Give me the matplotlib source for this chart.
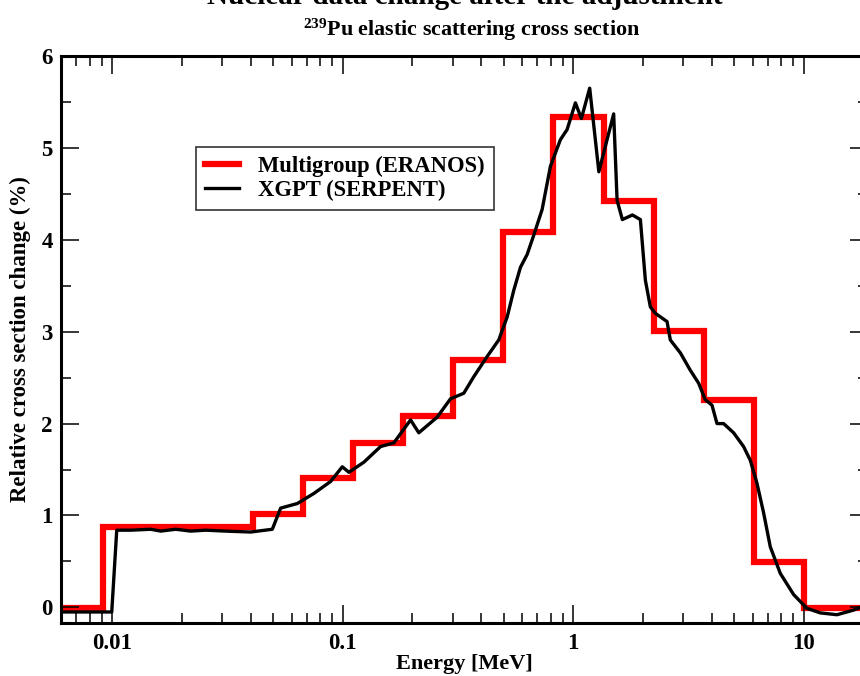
import numpy as np
import matplotlib
matplotlib.use('Agg')
import matplotlib.pyplot as plt
from matplotlib.ticker import LogLocator, MultipleLocator, NullFormatter, FixedLocator, FixedFormatter

plt.rcParams['font.family'] = ['Liberation Serif', 'DejaVu Serif']
plt.rcParams['font.weight'] = 'bold'
plt.rcParams['axes.labelweight'] = 'bold'
plt.rcParams['mathtext.fontset'] = 'custom'
plt.rcParams['mathtext.rm'] = 'Liberation Serif:bold'
plt.rcParams['mathtext.it'] = 'Liberation Serif:bold'
plt.rcParams['mathtext.bf'] = 'Liberation Serif:bold'

# ECCO 33-group boundaries (MeV), lowest groups visible in the window
group_edges = [0.005531, 0.009119, 0.01503, 0.02479, 0.04087, 0.06738, 0.1111,
               0.1832, 0.3020, 0.4979, 0.8209, 1.3534, 2.2313, 3.6788, 6.0653,
               10.0, 19.64]
eranos_change = [-0.01, 0.88, 0.87, 0.87, 1.02, 1.41, 1.79, 2.08, 2.69, 4.09,
                 5.34, 4.42, 3.01, 2.26, 0.49, -0.01]

# XGPT (SERPENT) continuous-energy result
serpent_energy = [0.00605, 0.00996, 0.01047, 0.01205, 0.0147, 0.01625, 0.01887,
                  0.02193, 0.02547, 0.03108, 0.0399, 0.04952, 0.05381, 0.06355,
                  0.07502, 0.08864, 0.09961, 0.1064, 0.1236, 0.146, 0.1667,
                  0.197, 0.2139, 0.257, 0.2936, 0.3352, 0.3704, 0.4233, 0.4754,
                  0.517, 0.5522, 0.5903, 0.6312, 0.6743, 0.7332, 0.7965, 0.8801,
                  0.941, 1.022, 1.085, 1.179, 1.292, 1.498, 1.55, 1.634, 1.806,
                  1.956, 2.056, 2.161, 2.271, 2.553, 2.638, 2.915, 3.221, 3.499,
                  3.741, 4.0, 4.205, 4.491, 4.963, 5.484, 5.864, 6.268, 6.696,
                  7.158, 7.912, 9.035, 10.32, 11.79, 13.93, 16.44, 17.58, 19.0]
serpent_change = [-0.05, -0.05, 0.84, 0.84, 0.85, 0.83, 0.85, 0.83, 0.84, 0.83,
                  0.82, 0.85, 1.08, 1.13, 1.24, 1.37, 1.53, 1.47, 1.58, 1.75,
                  1.79, 2.04, 1.90, 2.07, 2.27, 2.33, 2.51, 2.73, 2.91, 3.16,
                  3.45, 3.70, 3.84, 4.05, 4.33, 4.80, 5.09, 5.20, 5.49, 5.32,
                  5.65, 4.74, 5.37, 4.43, 4.22, 4.27, 4.22, 3.56, 3.27, 3.20,
                  3.11, 2.91, 2.77, 2.58, 2.44, 2.26, 2.20, 2.00, 2.00, 1.90,
                  1.75, 1.60, 1.35, 1.03, 0.66, 0.37, 0.14, -0.01, -0.06, -0.08,
                  -0.03, 0.0, 0.01]

fig = plt.figure(figsize=(8.6, 6.76), dpi=100, facecolor='white')
ax = fig.add_axes([61 / 860, 1 - 623 / 676, 807 / 860, 567 / 676])

ax.stairs(eranos_change, group_edges, baseline=None, color='red', lw=4.5,
          label='Multigroup (ERANOS)')
ax.plot(serpent_energy, serpent_change, color='black', lw=2.4,
        solid_joinstyle='round', label='XGPT (SERPENT)')

ax.set_xscale('log')
ax.set_xlim(0.006, 19.0)
ax.set_ylim(-0.17, 6.0)

ax.xaxis.set_major_locator(FixedLocator([0.01, 0.1, 1, 10]))
ax.xaxis.set_major_formatter(FixedFormatter(['0.01', '0.1', '1', '10']))
ax.xaxis.set_minor_locator(LogLocator(base=10, subs=np.arange(2, 10)))
ax.xaxis.set_minor_formatter(NullFormatter())
ax.yaxis.set_major_locator(MultipleLocator(1))
ax.yaxis.set_minor_locator(MultipleLocator(0.5))

ax.tick_params(which='both', direction='in', top=True, right=True,
               labelsize=16.5, width=1.1)
ax.tick_params(axis='x', pad=7)
ax.tick_params(axis='y', pad=6)
ax.tick_params(which='major', length=13)
ax.tick_params(which='minor', length=7)
for s in ax.spines.values():
    s.set_linewidth(2.2)

ax.set_xlabel('Energy [MeV]', fontsize=16, labelpad=0)
ax.set_ylabel('Relative cross section change (%)', fontsize=16.5, labelpad=7)

fig.text(0.54, 1 - 4 / 676, 'Nuclear data change after the adjustment',
         ha='center', va='baseline', fontsize=21)
fig.text(0.548, 1 - 36 / 676, r'$^{239}$Pu elastic scattering cross section',
         ha='center', va='baseline', fontsize=15.8)

leg = ax.legend(loc='upper left', bbox_to_anchor=(196 / 860, 1 - 147 / 676),
                bbox_transform=fig.transFigure, fontsize=16.3, frameon=True,
                fancybox=False, handlelength=1.5, handletextpad=0.85,
                borderpad=0.4, labelspacing=0.1, borderaxespad=0)
leg.get_frame().set_edgecolor('black')
leg.get_frame().set_linewidth(1.2)

fig.savefig('out.png', dpi=100, facecolor='white')
